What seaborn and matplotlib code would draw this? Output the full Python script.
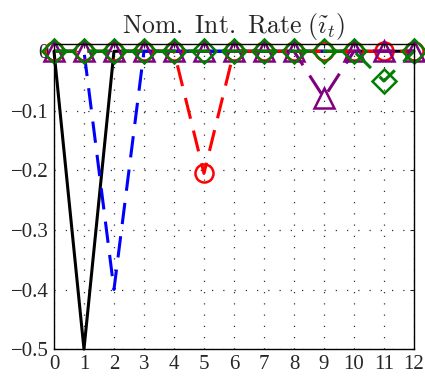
import matplotlib
matplotlib.use("Agg")
import matplotlib.pyplot as plt
import seaborn as sns
import numpy as np

periods = list(range(13))
shock_0 = [0, -0.5, 0, 0, 0, 0, 0, 0, 0, 0, 0, 0, 0]
shock_1 = [0, 0, -0.4, 0, 0, 0, 0, 0, 0, 0, 0, 0, 0]
shock_4 = [0, 0, 0, 0, 0, -0.205, 0, 0, 0, 0, 0, 0, 0]
shock_8 = [0, 0, 0, 0, 0, 0, 0, 0, 0, -0.078, 0, 0, 0]
shock_10 = [0, 0, 0, 0, 0, 0, 0, 0, 0, 0, 0, -0.05, 0]
y_ticks = [-0.5, -0.4, -0.3, -0.2, -0.1, 0]
y_tick_labels = ["\u22120.5", "\u22120.4", "\u22120.3", "\u22120.2", "\u22120.1", "0"]
title = r"$\mathrm{Nom.\ Int.\ Rate}\ (\tilde{\imath}_t)$"

sns.set_style("white")
plt.rcParams['font.family'] = ['Liberation Serif', 'DejaVu Serif']
plt.rcParams['mathtext.fontset'] = 'cm'

fig = plt.figure(figsize=(4.25, 3.77), dpi=100)
ax = fig.add_axes([0.127, 0.074, 0.847, 0.809])

dash = (0, (7, 4))
sns.lineplot(x=periods, y=shock_0, ax=ax, color='black', lw=2.2, linestyle='-')
sns.lineplot(x=periods, y=shock_1, ax=ax, color='blue', lw=2.2, linestyle=dash)
sns.lineplot(x=periods, y=shock_4, ax=ax, color='red', lw=2.2, linestyle=dash,
             marker='o', markersize=13, markerfacecolor='none', markeredgecolor='red', markeredgewidth=1.8)
sns.lineplot(x=periods, y=shock_8, ax=ax, color='purple', lw=2.2, linestyle=dash,
             marker='^', markersize=14, markerfacecolor='none', markeredgecolor='purple', markeredgewidth=1.8)
sns.lineplot(x=periods, y=shock_10, ax=ax, color='green', lw=2.2, linestyle=dash,
             marker='D', markersize=12, markerfacecolor='none', markeredgecolor='green', markeredgewidth=1.8)

ax.set_xlim(0, 12)
ax.set_ylim(-0.5, 0.012)
ax.set_xticks(periods)
ax.set_xticklabels([str(p) for p in periods])
ax.set_yticks(y_ticks)
ax.set_yticklabels(y_tick_labels)
ax.tick_params(direction='in', length=3, labelsize=15, top=True, right=True, pad=4)
ax.grid(True, linestyle=(0, (1, 8)), color='#333333', linewidth=0.9)
for s in ax.spines.values():
    s.set_color('black')
    s.set_linewidth(1.0)
ax.set_title(title, fontsize=18.5, pad=8)
ax.set_xlabel("")
ax.set_ylabel("")
for line in ax.lines:
    line.set_clip_on(False)

fig.savefig("out.png", dpi=100)
